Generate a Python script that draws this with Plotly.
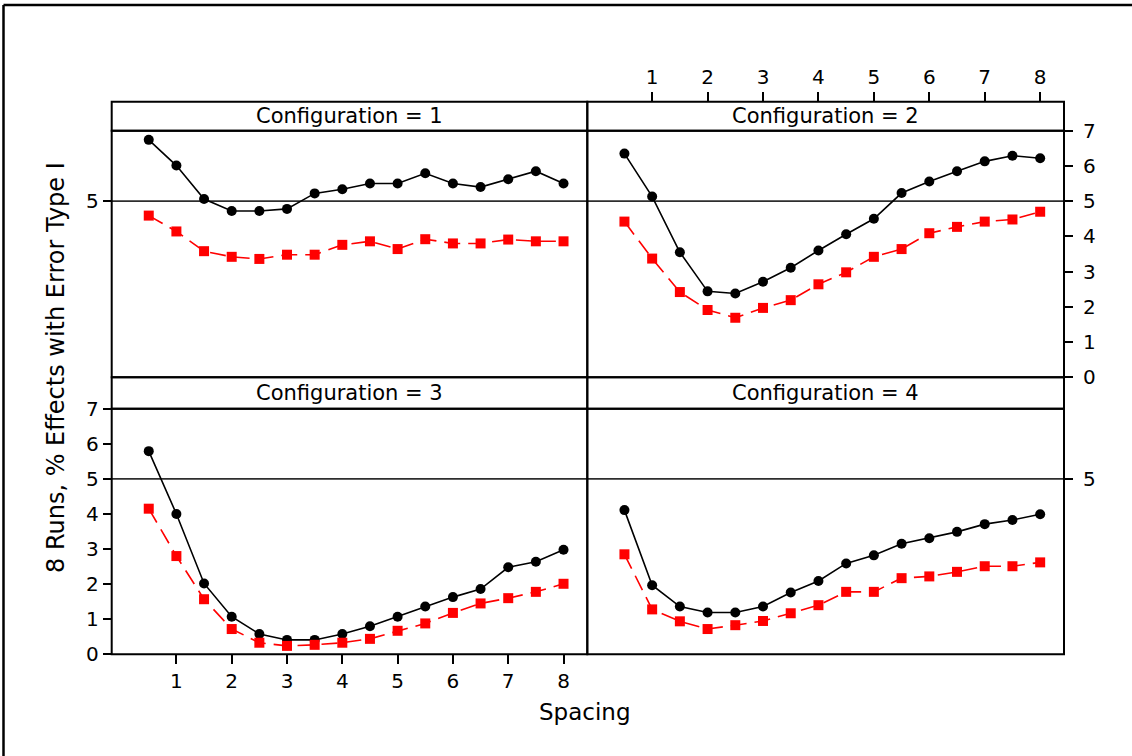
import plotly.graph_objects as go

spacing = [0.5, 1, 1.5, 2, 2.5, 3, 3.5, 4, 4.5, 5, 5.5, 6, 6.5, 7, 7.5, 8]

config_labels = ["Configuration = 1", "Configuration = 2", "Configuration = 3", "Configuration = 4"]

black_c1 = [6.74, 6.01, 5.06, 4.72, 4.72, 4.78, 5.22, 5.34, 5.50, 5.50, 5.79, 5.50, 5.40, 5.62, 5.85, 5.50]
red_c1 = [4.59, 4.14, 3.58, 3.42, 3.36, 3.48, 3.48, 3.76, 3.86, 3.64, 3.92, 3.80, 3.80, 3.91, 3.86, 3.86]

black_c2 = [6.35, 5.13, 3.55, 2.44, 2.38, 2.71, 3.11, 3.60, 4.06, 4.50, 5.23, 5.56, 5.85, 6.13, 6.29, 6.22]
red_c2 = [4.42, 3.37, 2.42, 1.91, 1.69, 1.97, 2.19, 2.64, 2.98, 3.42, 3.64, 4.09, 4.27, 4.42, 4.48, 4.70]

black_c3 = [5.79, 4.00, 2.02, 1.07, 0.58, 0.41, 0.41, 0.58, 0.80, 1.07, 1.36, 1.63, 1.86, 2.48, 2.64, 2.98]
red_c3 = [4.15, 2.80, 1.57, 0.72, 0.33, 0.24, 0.27, 0.33, 0.44, 0.67, 0.88, 1.18, 1.45, 1.60, 1.78, 2.01]

black_c4 = [4.11, 1.97, 1.36, 1.19, 1.19, 1.36, 1.76, 2.09, 2.59, 2.82, 3.15, 3.31, 3.49, 3.71, 3.83, 3.99]
red_c4 = [2.85, 1.28, 0.94, 0.72, 0.83, 0.95, 1.17, 1.40, 1.78, 1.78, 2.17, 2.22, 2.35, 2.51, 2.51, 2.62]

x_ticks = [1, 2, 3, 4, 5, 6, 7, 8]
y_ticks = [0, 1, 2, 3, 4, 5, 6, 7]
ref_value = 5

y_title = "8 Runs, % Effects with Error Type I"
x_title = "Spacing"

W, H = 1132, 756
FONT = "DejaVu Sans"

def px(xp):
    return xp / W

def py(yp):
    return 1 - yp / H

# grid geometry (pixels)
xL0, xM, xR1 = 111.7, 587.3, 1064.0
yT0, yT1, yTB = 101.7, 130.7, 377.3   # top strip top, top strip bottom/plot top, plot bottom
yB1, yBB = 408.7, 654.3               # bottom strip bottom/plot top, plot bottom

dom_xL = [px(xL0), px(xM)]
dom_xR = [px(xM), px(xR1)]
dom_yT = [py(yTB), py(yT1)]
dom_yB = [py(yBB), py(yB1)]

xrange_ = [-0.17, 8.43]
yrange_ = [0, 7]

fig = go.Figure()

series = [(black_c1, red_c1), (black_c2, red_c2), (black_c3, red_c3), (black_c4, red_c4)]
for i, (b, r) in enumerate(series):
    ax = "" if i == 0 else str(i + 1)
    fig.add_trace(go.Scatter(
        x=spacing, y=b, xaxis="x" + ax, yaxis="y" + ax, mode="lines+markers",
        line=dict(color="black", width=1.6),
        marker=dict(symbol="circle", size=10, color="black"),
        showlegend=False, cliponaxis=False))
    fig.add_trace(go.Scatter(
        x=spacing, y=r, xaxis="x" + ax, yaxis="y" + ax, mode="lines+markers",
        line=dict(color="#FF0000", width=1.6, dash="16px,8px"),
        marker=dict(symbol="square", size=10, color="#FF0000"),
        showlegend=False, cliponaxis=False))

tickfont = dict(family=FONT, size=20, color="black")
common_x = dict(range=xrange_, showgrid=False, zeroline=False, showline=False, automargin=False)
common_y = dict(range=yrange_, showgrid=False, zeroline=False, showline=False, automargin=False)

fig.update_layout(
    width=W, height=H, autosize=False,
    margin=dict(l=0, r=0, t=0, b=0, pad=0),
    paper_bgcolor="white", plot_bgcolor="white",
    xaxis=dict(domain=dom_xL, anchor="y", showticklabels=False, ticks="", **common_x),
    yaxis=dict(domain=dom_yT, anchor="x", side="left", tickvals=[ref_value], ticks="outside",
               ticklen=8, tickwidth=1.5, tickcolor="black", tickfont=tickfont, **common_y),
    xaxis2=dict(domain=dom_xR, anchor="free", position=py(yT0), side="top", tickvals=x_ticks,
                ticks="outside", ticklen=10, tickwidth=1.5, tickcolor="black", tickfont=tickfont, **common_x),
    yaxis2=dict(domain=dom_yT, anchor="x2", side="right", tickvals=y_ticks, ticks="outside",
                ticklen=8, tickwidth=1.5, tickcolor="black", tickfont=tickfont,
                ticklabelstandoff=6, **common_y),
    xaxis3=dict(domain=dom_xL, anchor="y3", side="bottom", tickvals=x_ticks, ticks="outside",
                ticklen=9, tickwidth=1.5, tickcolor="black", tickfont=tickfont, **common_x),
    yaxis3=dict(domain=dom_yB, anchor="x3", side="left", tickvals=y_ticks, ticks="outside",
                ticklen=8, tickwidth=1.5, tickcolor="black", tickfont=tickfont, **common_y),
    xaxis4=dict(domain=dom_xR, anchor="y4", showticklabels=False, ticks="", **common_x),
    yaxis4=dict(domain=dom_yB, anchor="x4", side="right", tickvals=[ref_value], ticks="outside",
                ticklen=8, tickwidth=1.5, tickcolor="black", tickfont=tickfont,
                ticklabelstandoff=6, **common_y),
)

shapes = []
# reference lines
for ax in ["", "2", "3", "4"]:
    shapes.append(dict(type="line", xref="x" + ax + " domain", yref="y" + ax,
                       x0=0, x1=1, y0=ref_value, y1=ref_value,
                       line=dict(color="#2e2e2e", width=1.6), layer="below"))
# panel + strip rectangles
for (x0, x1) in [(xL0, xM), (xM, xR1)]:
    for (s0, s1, p1) in [(yT0, yT1, yTB), (yTB, yB1, yBB)]:
        shapes.append(dict(type="rect", xref="paper", yref="paper",
                           x0=px(x0), x1=px(x1), y0=py(s1), y1=py(s0),
                           line=dict(color="black", width=2), fillcolor="rgba(0,0,0,0)"))
        shapes.append(dict(type="rect", xref="paper", yref="paper",
                           x0=px(x0), x1=px(x1), y0=py(p1), y1=py(s1),
                           line=dict(color="black", width=2), fillcolor="rgba(0,0,0,0)"))
# outer frame (top and left)
shapes.append(dict(type="line", xref="paper", yref="paper", x0=px(3.5), x1=1.0,
                   y0=py(5), y1=py(5), line=dict(color="black", width=2.5)))
shapes.append(dict(type="line", xref="paper", yref="paper", x0=px(3.5), x1=px(3.5),
                   y0=0, y1=py(5), line=dict(color="black", width=2.5)))
fig.update_layout(shapes=shapes)

annotations = []
strip_pos = [((xL0 + xM) / 2, (yT0 + yT1) / 2), ((xM + xR1) / 2, (yT0 + yT1) / 2),
             ((xL0 + xM) / 2, (yTB + yB1) / 2), ((xM + xR1) / 2, (yTB + yB1) / 2)]
for lab, (cx, cy) in zip(config_labels, strip_pos):
    annotations.append(dict(text=lab, xref="paper", yref="paper", x=px(cx), y=py(cy),
                            showarrow=False, xanchor="center", yanchor="middle",
                            font=dict(family=FONT, size=21, color="black")))
annotations.append(dict(text=y_title, xref="paper", yref="paper", x=px(56), y=py(368),
                        textangle=-90, showarrow=False, xanchor="center", yanchor="middle",
                        font=dict(family=FONT, size=24, color="black")))
annotations.append(dict(text=x_title, xref="paper", yref="paper", x=px(585), y=py(712),
                        showarrow=False, xanchor="center", yanchor="middle",
                        font=dict(family=FONT, size=23, color="black")))
fig.update_layout(annotations=annotations)

fig.write_html("out.html", config={"displayModeBar": False},
               post_script="document.body.style.margin='0';")
